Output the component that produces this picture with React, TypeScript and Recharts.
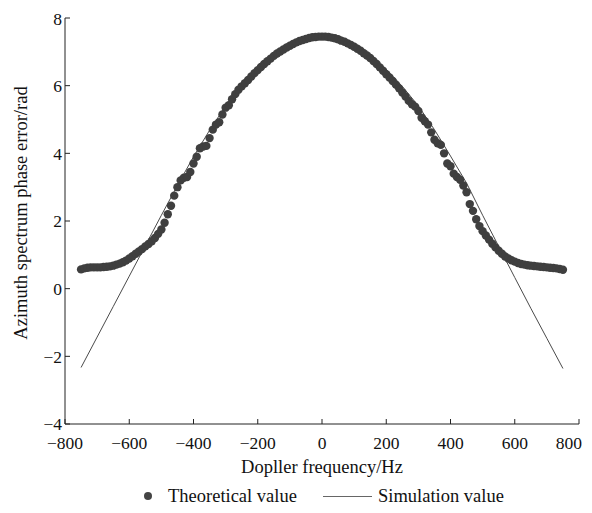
import React from "react";
import { ComposedChart, Scatter, Line, XAxis, YAxis, Legend } from "recharts";

const dotFreq = [
  -750, -740, -730, -720, -710, -700, -690, -680, -670, -660,
  -650, -640, -630, -620, -610, -600, -590, -580, -570, -560,
  -550, -540, -530, -520, -510, -500, -490, -480, -470, -460,
  -450, -440, -430, -420, -410, -400, -390, -380, -370, -360,
  -350, -340, -330, -320, -310, -300, -290, -280, -270, -260,
  -250, -240, -230, -220, -210, -200, -190, -180, -170, -160,
  -150, -140, -130, -120, -110, -100, -90, -80, -70, -60,
  -50, -40, -30, -20, -10, 0,
  10, 20, 30, 40, 50, 60, 70, 80, 90, 100,
  110, 120, 130, 140, 150, 160, 170, 180, 190, 200,
  210, 220, 230, 240, 250, 260, 270, 280, 290, 300,
  310, 320, 330, 340, 350, 360, 370, 380, 390, 400,
  410, 420, 430, 440, 450, 460, 470, 480, 490, 500,
  510, 520, 530, 540, 550, 560, 570, 580, 590, 600,
  610, 620, 630, 640, 650, 660, 670, 680, 690, 700,
  710, 720, 730, 740, 750,
];

const dotPhase = [
  0.57, 0.6, 0.62, 0.63, 0.63, 0.63, 0.63, 0.64, 0.65, 0.66,
  0.68, 0.71, 0.74, 0.78, 0.83, 0.89, 0.96, 1.03, 1.1, 1.17,
  1.25, 1.32, 1.4, 1.5, 1.62, 1.75, 1.95, 2.2, 2.45, 2.75,
  3.0, 3.2, 3.28, 3.3, 3.45, 3.7, 3.9, 4.15, 4.2, 4.22,
  4.45, 4.7, 4.85, 4.92, 5.15, 5.35, 5.42, 5.6, 5.75, 5.88,
  5.98, 6.07, 6.17, 6.27, 6.37, 6.46, 6.55, 6.64, 6.72, 6.8,
  6.88, 6.95, 7.01, 7.07, 7.13, 7.18, 7.23, 7.28, 7.32, 7.35,
  7.38, 7.41, 7.43, 7.44, 7.45, 7.45,
  7.45, 7.44, 7.42, 7.4, 7.37, 7.33, 7.3, 7.25, 7.2, 7.15,
  7.09, 7.03, 6.96, 6.89, 6.82, 6.73, 6.64, 6.54, 6.44, 6.34,
  6.24, 6.14, 6.03, 5.92, 5.8, 5.68, 5.55, 5.45, 5.38, 5.25,
  5.05, 4.95, 4.85, 4.62, 4.4, 4.3, 4.25, 4.0, 3.7, 3.62,
  3.4, 3.3, 3.22, 3.05, 2.85, 2.5, 2.3, 2.05, 1.85, 1.7,
  1.57, 1.45, 1.33, 1.22, 1.12, 1.03, 0.95, 0.89, 0.84, 0.8,
  0.76, 0.73, 0.71, 0.69, 0.68, 0.67, 0.66, 0.65, 0.64, 0.63,
  0.62, 0.61, 0.6, 0.58, 0.56,
];

const simFreq = [
  -750, -700, -650, -600, -550, -500, -450, -400, -350, -300, -250,
  -200, -150, -100, -50, 0, 50, 100, 150, 200, 250,
  300, 350, 400, 450, 500, 550, 600, 650, 700, 750,
];

const simPhase = [
  -2.33, -1.43, -0.53, 0.37, 1.27, 2.17, 3.05, 3.9, 4.68, 5.4, 5.98,
  6.48, 6.88, 7.18, 7.38, 7.45, 7.38, 7.18, 6.88, 6.48, 5.98,
  5.4, 4.7, 3.92, 3.12, 2.17, 1.25, 0.33, -0.58, -1.47, -2.36,
];

const xTicks = [-800, -600, -400, -200, 0, 200, 400, 600, 800];
const yTicks = [-4, -2, 0, 2, 4, 6, 8];

const dots = dotFreq.map((x, i) => ({ x, y: dotPhase[i] }));
const sim = simFreq.map((x, i) => ({ x, y: simPhase[i] }));

const FONT = '"Liberation Serif", "Times New Roman", serif';
const fmt = (v: number) => (v < 0 ? `\u2212${-v}` : `${v}`);

// last label is pulled in a little so it is not cut at the window edge
function XTick(props: any) {
  const { x, y, payload, index, visibleTicksCount } = props;
  const last = index === visibleTicksCount - 1;
  return (
    <text
      x={last ? x + 3 : x}
      y={y}
      dy="0.71em"
      textAnchor={last ? "end" : "middle"}
      fill="#111"
      fontSize={17.5}
      fontFamily={FONT}
    >
      {fmt(payload.value)}
    </text>
  );
}

function LegendBox() {
  return (
    <div style={{ position: "relative", height: 16, fontFamily: FONT, fontSize: 18.5, color: "#111", lineHeight: "18px" }}>
      <span style={{ position: "absolute", left: 136, top: 6, width: 8, height: 8, borderRadius: 4, background: "#444" }} />
      <span style={{ position: "absolute", left: 160, top: 1 }}>Theoretical value</span>
      <span style={{ position: "absolute", left: 315, top: 10, width: 49, height: 1, background: "#666" }} />
      <span style={{ position: "absolute", left: 370, top: 1 }}>Simulation value</span>
    </div>
  );
}

export default function App() {
  const tickStyle = { fill: "#111", fontSize: 17.5, fontFamily: FONT };
  return (
    <div style={{ width: 584, height: 494 }}>
      <style>{`body{overflow:hidden}`}</style>
      <ComposedChart width={584} height={494} margin={{ top: 10, right: 13, left: 0, bottom: 0 }}>
        <XAxis
          dataKey="x"
          type="number"
          domain={[-800, 800]}
          ticks={xTicks}
          tick={<XTick />}
          tickSize={-5}
          tickMargin={18}
          height={62}
          stroke="#222"
          allowDataOverflow
          label={{ value: "Dopller frequency/Hz", position: "insideBottom", offset: 13, fill: "#111", fontSize: 18.5, fontFamily: FONT }}
        />
        <YAxis
          dataKey="y"
          type="number"
          domain={[-4, 8]}
          ticks={yTicks}
          tickFormatter={fmt}
          tick={tickStyle}
          tickSize={-5}
          tickMargin={8}
          width={57}
          stroke="#222"
          allowDataOverflow
          label={{
            content: () => (
              <text x={19} y={205} transform="rotate(-90 19 205)" textAnchor="middle" fill="#111" fontSize={18.5} fontFamily={FONT}>
                Azimuth spectrum phase error/rad
              </text>
            ),
          }}
        />
        <Legend verticalAlign="bottom" wrapperStyle={{ left: 0, width: 584 }} content={() => <LegendBox />} />
        <Scatter
          data={dots}
          dataKey="y"
          fill="#3f3f3f"
          isAnimationActive={false}
          shape={(p: any) => <circle cx={p.cx} cy={p.cy} r={4.2} fill="#3f3f3f" />}
        />
        <Line
          data={sim}
          dataKey="y"
          type="linear"
          stroke="#4a4a4a"
          strokeWidth={1}
          dot={false}
          isAnimationActive={false}
        />
      </ComposedChart>
    </div>
  );
}
